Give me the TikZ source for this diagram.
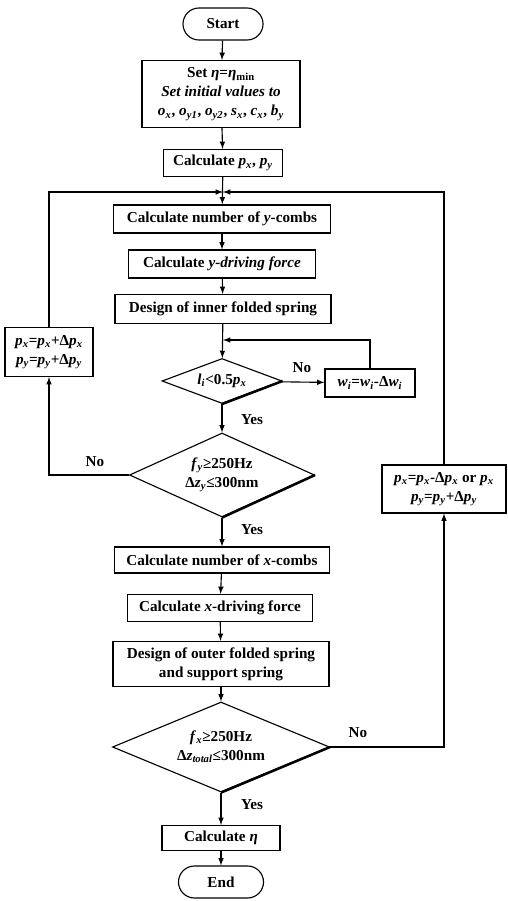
\documentclass[tikz,border=0pt]{standalone}
\usepackage{fontspec}
\setmainfont{Liberation Serif}
\usetikzlibrary{shapes,arrows,positioning,calc}

\newcommand{\vs}[2]{\textit{#1}\textsubscript{\textit{#2}}}

\tikzset{
  every node/.style={font=\fontsize{10.8pt}{13.5pt}\selectfont\bfseries},
  box/.style={draw, rectangle, line width=0.8pt, inner sep=1pt, align=center},
  term/.style={draw, rectangle, rounded corners=0.4cm, line width=0.8pt, minimum height=0.8cm},
  dec/.style={draw, diamond, line width=0.8pt, inner sep=0pt, align=center},
  line/.style={draw, line width=0.8pt, -latex},
  lab/.style={}
}

\begin{document}
\begin{tikzpicture}[x=0.025cm, y=-0.025cm]
		\useasboundingbox (0,0) rectangle (507,901);
		% main column
		\draw (223,24) node[term, minimum width=2cm] (start){Start};
		\draw (221,94) node[box, minimum width=3.95cm, minimum height=1.675cm] (set){Set \textit{η}=\textit{η}\textsubscript{min}\\ \textit{Set initial values to}\\ \vs{o}{x}, \vs{o}{y\/1}, \vs{o}{y\/2}, \vs{s}{x}, \vs{c}{x}, \vs{b}{y}};
		\draw (223,163) node[box, minimum width=2.975cm, minimum height=0.675cm] (calcp){Calculate \vs{p}{x}, \vs{p}{y}};
		\draw (222,219) node[box, minimum width=5.425cm, minimum height=0.7cm] (ycombs){Calculate number of \textit{y}-combs};
		\draw (222,264) node[box, minimum width=4.675cm, minimum height=0.7cm] (ydrive){Calculate \textit{y-driving force}};
		\draw (223,309) node[box, minimum width=5.4cm, minimum height=0.725cm] (inner){Design of inner folded spring};
		\draw (222,381) node[dec, aspect=2.7, minimum width=3cm, minimum height=1.125cm] (d1){\vs{l}{i}<0.5\vs{p}{x}};
		\draw (370,383) node[box, minimum width=2.25cm, minimum height=0.7cm] (wi){\vs{w}{i}=\vs{w}{i}-Δ\vs{w}{i}};
		\draw (222,475) node[dec, aspect=2.2, minimum width=4.625cm, minimum height=2.1cm] (d2){\vs{f}{y}≥250Hz\\ Δ\vs{z}{y}≤300nm};
		\draw (49,352) node[box, minimum width=2.2cm, minimum height=1.225cm] (pl){\vs{p}{x}=\vs{p}{x}+Δ\vs{p}{x}\\ \vs{p}{y}=\vs{p}{y}+Δ\vs{p}{y}};
		\draw (222,560) node[box, minimum width=5.375cm, minimum height=0.65cm] (xcombs){Calculate number of \textit{x}-combs};
		\draw (220,608) node[box, minimum width=4.625cm, minimum height=0.675cm] (xdrive){Calculate \textit{x}-driving force};
		\draw (221,664) node[box, minimum width=5.4cm, minimum height=1.125cm] (outer){Design of outer folded spring\\ and support spring};
		\draw (221,747) node[dec, aspect=2.4, minimum width=5.425cm, minimum height=2.25cm] (d3){\vs{f}{x}≥250Hz\\ Δ\vs{z}{total}≤300nm};
		\draw (444,489) node[box, minimum width=3.1cm, minimum height=1.2cm] (pr){\vs{p}{x}=\vs{p}{x}-Δ\vs{p}{x} or \textit{p}\textsubscript{\textit{x}}\\ \vs{p}{y}=\vs{p}{y}+Δ\vs{p}{y}};
		\draw (221,838) node[box, minimum width=2.95cm, minimum height=0.625cm] (calceta){Calculate \textit{η}};
		\draw (221,882) node[term, minimum width=2.125cm] (end){End};
		\coordinate (top) at (223,192);
		\coordinate (mid) at (223,340);
		% thick lower right edges
		\draw [line width=1.8pt] (d1.south) -- (d1.east);
		\draw [line width=1.8pt] (d2.south) -- (d2.east);
		\draw [line width=1.8pt] (d3.south) -- (d3.east);
		% connectors
		\draw [line] (start)--(set);
		\draw [line] (set)--(calcp);
		\draw [line] (calcp)--(ycombs);
		\draw [line] (ycombs)--(ydrive);
		\draw [line] (ydrive)--(inner);
		\draw [line] (inner)--(d1);
		\draw [line] (d1)--(wi);
		\draw [line] (wi.north) |- (mid);
		\draw [line] (d1)--(d2);
		\draw [line] (d2.west) -| (pl.south);
		\draw [line] (pl.north) |- (top);
		\draw [line] (d2)--(xcombs);
		\draw [line] (xcombs)--(xdrive);
		\draw [line] (xdrive)--(outer);
		\draw [line] (outer)--(d3);
		\draw [line] (d3.east) -| (pr.south);
		\draw [line] (pr.north) |- (top);
		\draw [line] (d3)--(calceta);
		\draw [line] (calceta)--(end);
		% labels
		\node [lab] (no1) at (302,368) {No};
		\node [lab] (yes1) at (252,420) {Yes};
		\node [lab] (no2) at (95,462) {No};
		\node [lab] (yes2) at (252,530) {Yes};
		\node [lab] (no3) at (358,733) {No};
		\node [lab] (yes3) at (252,805) {Yes};
		\end{tikzpicture}
\end{document}
